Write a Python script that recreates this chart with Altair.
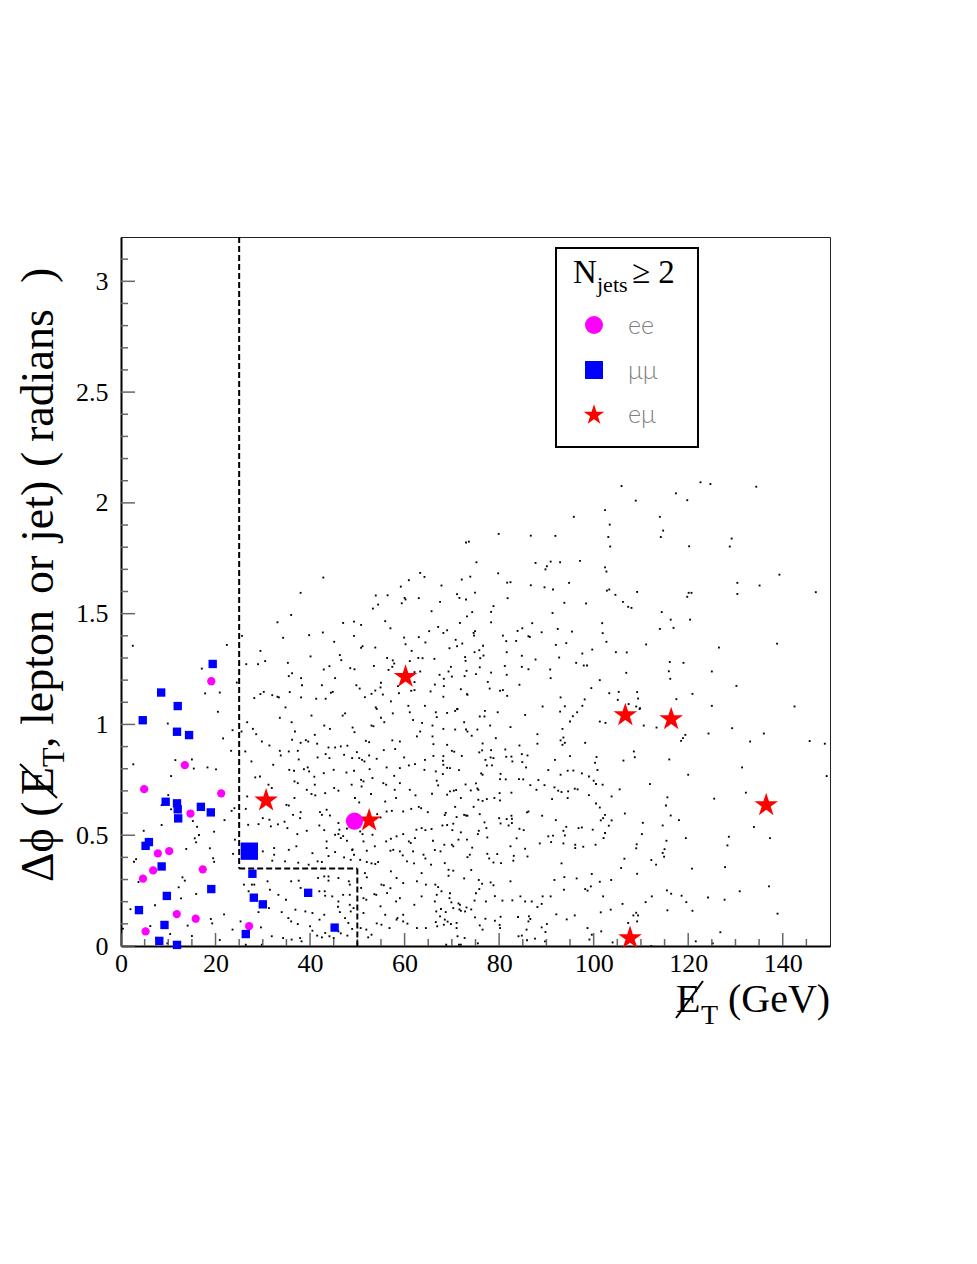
import altair as alt
import pandas as pd

SERIF = "Liberation Serif"

# ---------------- data ----------------
# axis tick values
x_major = [0, 20, 40, 60, 80, 100, 120, 140]
x_minor = [5, 10, 15, 25, 30, 35, 45, 50, 55, 65, 70, 75, 85, 90, 95, 105, 110, 115, 125, 130, 135, 145]
y_major = [0, 0.5, 1, 1.5, 2, 2.5, 3]
y_minor = [0.1, 0.2, 0.3, 0.4, 0.6, 0.7, 0.8, 0.9, 1.1, 1.2, 1.3, 1.4, 1.6, 1.7, 1.8, 1.9,
           2.1, 2.2, 2.3, 2.4, 2.6, 2.7, 2.8, 2.9, 3.1]

# selection cut (dashed lines): segments (x, y, x2, y2)
cut_x = [25, 25, 50]
cut_y = [3.2, 0.35, 0.35]
cut_x2 = [25, 50, 50]
cut_y2 = [0.35, 0.35, 0.0]

# ee events (magenta circles)
ee_met = [19.1, 13.5, 4.9, 21.2, 14.7, 7.8, 10.2, 6.8, 17.3, 4.65, 11.8, 15.8, 5.2, 27.1]
ee_dphi = [1.195, 0.816, 0.708, 0.689, 0.598, 0.418, 0.428, 0.341, 0.346, 0.304, 0.144, 0.123, 0.066, 0.090]
ee_big_met = [49.4]
ee_big_dphi = [0.564]

# mumu events (blue squares)
mm_met = [19.4, 8.5, 12.0, 4.6, 11.85, 14.4, 9.45, 11.85, 12.0, 12.1, 16.9, 19.0, 5.9, 5.2, 8.6,
          19.1, 9.7, 3.8, 9.2, 8.1, 11.85, 27.8, 28.1, 30.0, 26.4, 39.6, 45.2]
mm_dphi = [1.273, 1.144, 1.083, 1.019, 0.967, 0.952, 0.651, 0.644, 0.617, 0.576, 0.628, 0.603, 0.469,
           0.452, 0.359, 0.257, 0.226, 0.162, 0.095, 0.023, 0.005, 0.326, 0.218, 0.188, 0.054, 0.240, 0.083]
mm_big_met = [27.15]
mm_big_dphi = [0.428]

# emu events (red stars)
em_met = [30.7, 52.5, 60.2, 106.7, 116.4, 136.5, 107.7]
em_dphi = [0.657, 0.567, 1.215, 1.042, 1.024, 0.636, 0.036]

# background expectation (small dots), (MET, dphi) pairs by region of the plot
bg_left = [(2.5,1.355),(22.4,1.359),(17.1,1.252),(17.8,1.140),(20.9,1.144),(20.5,1.057),(9.9,1.004),
 (21.6,0.937),(11.5,0.839),(15.0,0.842),(15.4,0.801),(18.3,0.806),(2.6,0.820),(10.6,0.767),(20.1,0.797),
 (10.0,0.681),(8.6,0.636),(10.6,0.617),(8.6,0.546),(15.2,0.564),(16.1,0.538),(4.8,0.520),(16.5,0.501),
 (19.7,0.516),(21.9,0.568),(15.6,0.486),(15.9,0.468),(13.8,0.438),(18.8,0.441),(3.2,0.392),(2.75,0.380),
 (19.5,0.396),(19.7,0.380),(13.0,0.310),(13.5,0.295),(3.7,0.289),(12.2,0.265),(15.9,0.235),(12.7,0.215),
 (7.2,0.184),(2.0,0.166),(21.8,0.143),(6.2,0.090),(14.1,0.092),(19.0,0.122),(19.3,0.102),(10.4,0.054),
 (7.5,0.037),(15.0,0.045),(0.4,0.078),(9.8,0.012),(20.9,0.027)]

bg_upper_a = [(42.8,1.663),(63.3,1.684),(64.2,1.666),(60.9,1.651),(59.2,1.622),(38.0,1.594),(53.9,1.582),
 (56.4,1.583),(60.0,1.571),(60.2,1.564),(63.0,1.570),(59.4,1.547),(54.4,1.541),(53.3,1.523),(36.0,1.494),
 (33.1,1.461),(47.0,1.458),(49.3,1.464),(50.8,1.449),(55.9,1.466),(57.0,1.434),(42.7,1.415),(25.6,1.400),
 (39.8,1.403),(49.3,1.400),(34.3,1.391),(59.9,1.392),(63.0,1.394),(65.2,1.421),(45.1,1.373),(60.2,1.362),
 (64.4,1.370),(51.1,1.353),(50.8,1.346),(53.8,1.347),(29.5,1.332),(61.5,1.332),(46.3,1.313),(40.1,1.307),
 (46.6,1.290),(56.3,1.300),(57.5,1.289),(62.9,1.300),(63.8,1.299),(26.5,1.272),(29.0,1.272),(30.5,1.286),
 (35.3,1.278),(57.8,1.275),(61.1,1.286),(44.1,1.263),(42.9,1.248),(48.5,1.254),(49.4,1.249),(53.5,1.264),
 (56.6,1.246),(57.4,1.260),(36.2,1.231),(35.5,1.218),(62.1,1.236),(63.3,1.239),(38.1,1.209),(45.3,1.209),
 (24.5,1.189),(42.5,1.177),(38.3,1.177),(55.0,1.188),(49.8,1.177),(50.5,1.162),(54.9,1.167),(58.6,1.173),
 (62.1,1.191),(62.1,1.155),(35.7,1.146),(30.2,1.147),(29.5,1.137),(32.0,1.132),(33.1,1.125),(33.4,1.122),
 (38.1,1.122),(41.3,1.116),(43.3,1.116),(28.2,1.119),(44.4,1.143),(44.8,1.147),(53.8,1.153),(53.0,1.138),
 (55.4,1.135),(51.6,1.123),(58.8,1.141),(61.4,1.152),(57.1,1.104),(34.8,1.077),(53.9,1.077),(60.8,1.084),
 (64.3,1.084)]

bg_upper_b = [(105.9,2.076),(102.4,1.967),(95.8,1.937),(103.4,1.902),(79.9,1.860),(86.7,1.852),(91.9,1.851),
 (103.1,1.846),(73.0,1.821),(73.6,1.825),(103.5,1.803),(75.2,1.732),(87.7,1.729),(90.9,1.735),(92.9,1.732),
 (97.1,1.738),(90.1,1.714),(89.8,1.700),(102.4,1.709),(102.7,1.690),(79.8,1.682),(73.9,1.667),(72.1,1.654),
 (67.8,1.627),(81.7,1.640),(82.4,1.642),(86.7,1.628),(89.6,1.619),(91.4,1.609),(94.8,1.639),(102.8,1.604),
 (103.3,1.609),(104.6,1.585),(71.1,1.588),(71.6,1.571),(73.0,1.564),(74.9,1.595),(81.8,1.570),(67.5,1.553),
 (93.8,1.549),(98.4,1.546),(106.2,1.553),(107.3,1.531),(65.7,1.511),(78.8,1.534),(78.3,1.508),(74.3,1.507),
 (73.2,1.488),(91.3,1.503),(78.3,1.461),(71.7,1.458),(67.1,1.440),(69.0,1.425),(68.2,1.413),(74.9,1.421),
 (74.6,1.413),(74.7,1.401),(84.9,1.434),(87.0,1.457),(83.9,1.422),(80.8,1.401),(86.2,1.398),(86.5,1.395),
 (89.0,1.416),(92.4,1.431),(95.4,1.419),(101.8,1.457),(101.9,1.412),(70.8,1.382),(72.2,1.365),(71.1,1.353),
 (69.5,1.344),(76.6,1.355),(81.5,1.376),(83.6,1.377),(92.0,1.359),(94.2,1.367),(102.7,1.373),(75.8,1.335),
 (74.8,1.326),(76.7,1.311),(81.6,1.326),(72.8,1.304),(72.9,1.287),(76.0,1.299),(66.3,1.296),(84.8,1.310),
 (87.7,1.293),(92.7,1.302),(97.6,1.320),(99.7,1.338),(104.7,1.326),(107.0,1.325),(69.8,1.260),(75.9,1.258),
 (81.2,1.264),(84.8,1.260),(86.2,1.249),(96.3,1.278),(97.9,1.266),(98.6,1.266),(69.3,1.239),(73.1,1.242),
 (78.3,1.234),(90.8,1.248),(106.9,1.233),(67.4,1.224),(70.0,1.216),(72.7,1.218),(75.1,1.227),(81.6,1.224),
 (68.3,1.206),(90.9,1.209),(101.3,1.200),(77.6,1.192),(66.4,1.180),(84.3,1.179),(68.3,1.173),(71.9,1.159),
 (78.0,1.162),(80.2,1.152),(80.8,1.155),(99.5,1.164),(65.5,1.149),(73.2,1.137),(73.3,1.134),(81.7,1.129),
 (68.2,1.125),(93.0,1.122),(98.1,1.113),(103.3,1.141),(105.3,1.147),(105.1,1.111),(107.4,1.092),(71.1,1.070),
 (89.2,1.081),(93.9,1.082),(97.6,1.084)]

bg_upper_c = [(122.6,2.093),(124.7,2.085),(134.4,2.073),(117.4,2.043),(119.8,2.012),(108.9,2.010),
 (114.0,1.937),(114.7,1.875),(114.2,1.846),(129.2,1.839),(120.2,1.804),(128.8,1.803),(139.3,1.676),
 (130.4,1.639),(135.1,1.627),(147.0,1.597),(109.2,1.598),(120.1,1.594),(120.7,1.594),(119.8,1.576),
 (130.4,1.589),(108.0,1.526),(114.4,1.507),(116.3,1.473),(120.4,1.473),(114.0,1.431),(116.9,1.436),
 (111.1,1.361),(138.8,1.365),(126.5,1.347),(116.1,1.282),(119.0,1.278),(115.9,1.240),(125.0,1.239),
 (116.2,1.206),(130.2,1.174),(109.2,1.146),(120.9,1.138),(109.4,1.117),(117.5,1.114),(109.0,1.081),
 (109.8,1.073),(125.0,1.084),(142.5,1.081)]

bg_lower_a = [(26.7,1.01),(27.9,0.98),(33.6,1.03),(36.1,1.01),(40.3,1.04),(43.0,0.995),(46.9,1.04),
 (47.4,1.05),(54.1,1.07),(55.0,1.03),(55.7,1.01),(57.5,1.05),(61.1,1.055),(61.8,1.02),(63.7,1.007),
 (53.0,0.995),(53.4,0.992),(49.0,0.986),(49.4,0.965),(44.2,0.98),(41.0,0.953),(36.8,0.968),(28.6,0.956),
 (25.5,0.968),(23.6,0.974),(29.8,0.923),(31.4,0.905),(36.2,0.931),(38.0,0.917),(39.1,0.929),(39.6,0.923),
 (41.5,0.913),(43.9,0.896),(45.3,0.896),(46.5,0.901),(47.9,0.904),(51.8,0.926),(52.5,0.92),(57.4,0.928),
 (59.0,0.923),(62.6,0.946),(63.3,0.968),(23.3,0.881),(26.3,0.878),(33.6,0.881),(33.8,0.86),(35.5,0.878),
 (37.4,0.881),(37.6,0.842),(41.6,0.851),(43.3,0.866),(44.1,0.848),(47.2,0.863),(48.9,0.848),(49.9,0.875),
 (50.4,0.848),(51.0,0.84),(51.5,0.833),(52.5,0.86),(54.1,0.845),(55.6,0.884),(58.0,0.889),(59.9,0.851),
 (64.3,0.84),(27.6,0.833),(32.2,0.818),(35.6,0.795),(36.6,0.791),(38.7,0.798),(39.5,0.806),(39.8,0.788),
 (40.9,0.764),(42.9,0.78),(45.0,0.795),(47.7,0.783),(49.3,0.791),(52.6,0.798),(53.2,0.758),(56.2,0.806),
 (57.8,0.768),(59.0,0.803),(60.9,0.815),(62.2,0.821),(64.2,0.795),(28.4,0.761),(29.4,0.765),(31.2,0.728),
 (31.9,0.713),(36.7,0.743),(37.4,0.735),(39.3,0.705),(41.0,0.728),(45.1,0.713),(48.8,0.728),(50.8,0.75),
 (51.3,0.743),(50.9,0.72),(55.5,0.735),(56.1,0.728),(57.9,0.705),(59.0,0.735),(61.1,0.705),(26.7,0.675),
 (35.0,0.637),(35.5,0.634),(36.7,0.668),(40.3,0.686),(41.1,0.68),(43.2,0.69),(46.0,0.701),(49.5,0.668),
 (50.4,0.648),(52.9,0.686),(55.9,0.652),(58.2,0.668),(62.3,0.68),(23.4,0.61),(24.0,0.622),(26.4,0.619),
 (29.1,0.55),(30.0,0.577),(31.4,0.57),(36.4,0.592),(37.9,0.577),(38.0,0.604),(42.1,0.604),(42.5,0.592),
 (43.5,0.615),(44.2,0.589),(46.0,0.555),(46.2,0.525),(47.8,0.53),(50.6,0.517),(51.1,0.505),(54.2,0.595),
 (54.9,0.58),(56.2,0.607),(57.3,0.61),(59.7,0.607),(61.4,0.619),(63.0,0.628),(63.5,0.622),(64.9,0.604),
 (26.9,0.547),(31.7,0.54),(33.2,0.549),(34.6,0.561),(35.2,0.532),(37.3,0.505),(39.3,0.52),(41.96,0.544),
 (43.0,0.523),(43.5,0.472),(45.3,0.502),(46.0,0.505),(46.5,0.487),(47.0,0.496),(47.8,0.475),(49.0,0.436),
 (51.3,0.472),(53.2,0.502),(56.1,0.472),(57.1,0.484),(58.3,0.495),(59.7,0.505),(60.9,0.472),(61.3,0.465),
 (62.2,0.487),(62.5,0.525),(63.6,0.532),(64.4,0.523),(24.1,0.48),(23.7,0.416),(26.7,0.40),(30.0,0.427),
 (32.4,0.442),(32.4,0.412),(35.5,0.434),(37.1,0.45),(40.5,0.419),(43.5,0.442),(43.9,0.406),(45.3,0.424),
 (47.2,0.40),(48.9,0.433),(49.3,0.412),(48.6,0.389),(52.0,0.43),(53.7,0.45),(57.0,0.43),(57.6,0.434),
 (59.0,0.427),(59.6,0.409),(61.8,0.427),(64.0,0.412),(64.4,0.395),(32.0,0.385),(34.7,0.382),(37.5,0.376),
 (39.7,0.367),(41.6,0.382),(42.5,0.379),(50.6,0.389),(52.0,0.379),(53.0,0.373),(53.8,0.37),(54.4,0.379),
 (60.5,0.382),(62.0,0.373),(51.6,0.329),(52.0,0.31),(57.1,0.337),(58.3,0.307),(55.6,0.274),(55.1,0.277),
 (56.3,0.239),(57.0,0.261),(59.7,0.284),(62.6,0.292),(64.5,0.277),(63.6,0.329),(27.7,0.277),(28.2,0.277),
 (26.0,0.277),(27.0,0.247),(31.0,0.292),(31.5,0.254),(33.3,0.231),(34.9,0.209),(36.0,0.292),(37.6,0.295),
 (38.0,0.262),(41.7,0.307),(43.0,0.314),(43.9,0.314),(43.9,0.295),(46.0,0.307),(48.2,0.292),(48.4,0.277),
 (41.96,0.247),(43.1,0.247),(43.2,0.227),(44.7,0.224),(46.0,0.201),(45.9,0.177),(47.0,0.231),(48.4,0.231),
 (48.4,0.186),(50.8,0.262),(51.3,0.216),(51.9,0.209),(53.6,0.234),(54.0,0.231),(54.9,0.179),(58.2,0.201),
 (59.0,0.216),(62.06,0.186),(63.6,0.224),(59.7,0.141),(58.5,0.126),(55.9,0.141),(54.1,0.102),(51.3,0.149),
 (49.2,0.171),(48.6,0.156),(47.4,0.126),(48.1,0.104),(46.3,0.153),(43.0,0.141),(42.0,0.119),(40.5,0.149),
 (39.0,0.156),(36.9,0.164),(34.0,0.153),(31.3,0.171),(29.1,0.153),(25.3,0.111),(23.6,0.074),(29.6,0.084),
 (35.4,0.126),(36.0,0.111),(37.4,0.099),(40.0,0.089),(40.5,0.069),(41.5,0.047),(42.5,0.039),(44.1,0.044),
 (45.0,0.036),(43.2,0.059),(46.0,0.066),(46.5,0.057),(48.9,0.077),(47.9,0.047),(50.7,0.081),(51.9,0.074),
 (52.3,0.039),(53.0,0.051),(55.1,0.096),(56.8,0.081),(58.3,0.119),(59.7,0.111),(60.6,0.101),(62.6,0.081),
 (64.5,0.081),(31.9,0.044),(34.3,0.036),(36.1,0.029),(37.9,0.036),(38.2,0.021),(26.4,0.006),(29.8,0.006)]

bg_lower_b = [(66.6,1.055),(69.0,1.052),(70.7,1.061),(71.2,1.069),(75.9,1.036),(76.9,1.036),(77.0,1.061),
 (79.7,1.055),(85.5,1.043),(92.9,1.058),(95.6,1.037),(96.5,1.055),(95.0,1.013),(101.3,1.013),(102.5,1.007),
 (66.8,1.033),(72.6,1.01),(78.1,0.995),(82.4,0.988),(65.9,0.995),(68.2,0.98),(70.7,0.977),(73.0,0.977),
 (73.3,0.968),(75.4,0.977),(74.2,0.949),(65.9,0.946),(66.1,0.911),(69.0,0.908),(76.5,0.914),(79.3,0.938),
 (88.1,0.956),(93.4,0.98),(93.6,0.941),(93.0,0.928),(93.4,0.908),(93.9,0.917),(98.2,0.917),(84.3,0.905),
 (88.1,0.913),(81.3,0.887),(70.0,0.881),(70.5,0.877),(75.8,0.874),(76.4,0.883),(78.3,0.884),(84.8,0.866),
 (86.0,0.86),(82.6,0.855),(81.5,0.854),(72.1,0.858),(66.1,0.858),(68.2,0.857),(68.1,0.836),(77.1,0.84),
 (78.2,0.851),(78.8,0.848),(82.8,0.833),(84.9,0.83),(91.8,0.84),(95.0,0.857),(100.6,0.853),(100.3,0.827),
 (106.3,0.837),(68.2,0.818),(69.0,0.804),(69.6,0.803),(77.4,0.815),(78.5,0.815),(71.5,0.794),(66.6,0.788),
 (76.2,0.779),(76.5,0.773),(85.7,0.806),(90.4,0.794),(94.5,0.791),(95.7,0.792),(93.0,0.773),(97.5,0.779),
 (99.0,0.765),(100.8,0.794),(80.3,0.777),(80.2,0.753),(81.4,0.752),(84.2,0.753),(85.1,0.752),(86.6,0.726),
 (88.3,0.749),(89.6,0.726),(66.8,0.746),(68.1,0.776),(67.1,0.725),(72.9,0.729),(74.0,0.702),(75.1,0.734),
 (75.4,0.711),(75.6,0.705),(65.8,0.687),(69.0,0.683),(69.6,0.698),(70.4,0.701),(70.9,0.704),(71.9,0.668),
 (75.6,0.66),(76.5,0.655),(77.4,0.663),(79.0,0.668),(80.1,0.69),(80.2,0.657),(82.6,0.692),(87.9,0.705),
 (91.7,0.716),(92.5,0.701),(93.2,0.695),(94.6,0.698),(96.0,0.71),(96.6,0.707),(99.0,0.681),(100.0,0.746),
 (100.5,0.731),(101.9,0.728),(103.8,0.675),(105.5,0.707),(91.2,0.663),(94.5,0.668),(70.7,0.628),(74.6,0.628),
 (100.5,0.643),(101.3,0.625),(106.6,0.598),(68.7,0.601),(68.5,0.591),(71.0,0.582),(72.6,0.592),(73.0,0.589),
 (73.3,0.588),(75.9,0.595),(76.9,0.558),(80.0,0.577),(80.3,0.553),(81.6,0.573),(82.6,0.588),(82.7,0.574),
 (82.7,0.555),(85.9,0.603),(86.2,0.607),(89.1,0.588),(92.0,0.568),(94.2,0.538),(96.8,0.532),(97.5,0.535),
 (99.8,0.525),(101.5,0.567),(102.0,0.577),(102.4,0.592),(103.2,0.543),(103.8,0.567),(65.7,0.528),(66.0,0.475),
 (68.0,0.544),(69.0,0.546),(70.3,0.552),(70.1,0.523),(71.9,0.513),(73.2,0.48),(71.4,0.48),(75.7,0.52),
 (75.5,0.505),(77.5,0.49),(77.3,0.532),(82.0,0.544),(83.7,0.486),(84.3,0.529),(85.2,0.523),(88.6,0.463),
 (90.4,0.495),(91.0,0.469),(91.4,0.498),(93.6,0.463),(93.9,0.499),(93.6,0.52),(96.1,0.457),(96.1,0.442),
 (97.8,0.448),(100.4,0.457),(102.4,0.51),(102.1,0.487),(68.4,0.457),(67.6,0.427),(70.0,0.457),(70.3,0.45),
 (73.3,0.401),(73.8,0.412),(74.3,0.444),(77.5,0.416),(77.9,0.395),(78.8,0.377),(79.6,0.415),(80.4,0.374),
 (82.4,0.45),(83.1,0.407),(83.0,0.385),(85.5,0.439),(86.0,0.404),(66.4,0.433),(68.5,0.374),(65.6,0.367),
 (69.3,0.344),(69.3,0.317),(70.3,0.34),(74.1,0.343),(72.6,0.305),(75.7,0.298),(76.4,0.281),(78.2,0.287),
 (78.8,0.274),(82.4,0.292),(91.7,0.298),(93.2,0.373),(93.8,0.311),(96.4,0.305),(98.2,0.257),(98.7,0.25),
 (99.4,0.269),(99.6,0.325),(101.3,0.29),(103.7,0.298),(106.5,0.394),(105.8,0.352),(66.5,0.277),(66.8,0.231),
 (66.4,0.201),(67.1,0.266),(67.8,0.247),(69.6,0.238),(69.5,0.216),(69.9,0.197),(71.4,0.192),(71.7,0.186),
 (71.6,0.165),(73.1,0.174),(74.1,0.165),(74.8,0.205),(75.1,0.238),(75.8,0.257),(77.2,0.201),(79.1,0.225),
 (80.7,0.205),(82.8,0.206),(84.5,0.224),(85.5,0.201),(86.9,0.201),(88.1,0.176),(89.0,0.19),(89.2,0.224),
 (90.9,0.224),(93.7,0.254),(102.0,0.224),(103.6,0.164),(106.1,0.19),(101.5,0.152),(66.7,0.156),(67.7,0.167),
 (68.7,0.153),(70.3,0.171),(71.9,0.159),(72.8,0.156),(67.5,0.134),(68.5,0.119),(69.1,0.11),(69.8,0.099),
 (71.0,0.104),(74.9,0.129),(77.1,0.123),(79.1,0.114),(80.3,0.132),(84.0,0.131),(86.3,0.134),(86.6,0.122),
 (86.2,0.111),(92.1,0.143),(94.3,0.12),(96.0,0.138),(107.3,0.104),(66.6,0.108),(66.9,0.089),(68.3,0.096),
 (71.0,0.081),(75.9,0.093),(76.5,0.074),(80.1,0.095),(80.2,0.081),(85.8,0.074),(89.0,0.084),(90.1,0.099),
 (89.8,0.063),(98.7,0.081),(101.6,0.066),(71.2,0.044),(72.7,0.036),(75.5,0.012),(84.1,0.044),(84.8,0.047),
 (85.9,0.026),(87.6,0.033),(89.7,0.021),(99.1,0.029),(99.6,0.051),(104.0,0.016),(68.8,0.006),(71.5,0.006),
 (71.9,0.006)]

bg_lower_c = [(109.7,1.07),(110.6,0.995),(113.3,0.986),(119.4,0.953),(118.9,0.938),(118.5,0.926),
 (124.3,0.959),(129.3,0.983),(136.0,0.959),(133.1,0.923),(145.7,0.925),(148.9,0.913),(108.5,0.878),
 (108.7,0.852),(116.0,0.842),(131.4,0.806),(120.0,0.773),(149.3,0.767),(111.9,0.731),(115.6,0.671),
 (125.5,0.665),(132.2,0.692),(115.3,0.634),(116.3,0.589),(118.05,0.568),(110.4,0.556),(114.6,0.544),
 (133.9,0.537),(110.2,0.505),(119.5,0.487),(128.6,0.493),(137.3,0.487),(115.4,0.475),(109.1,0.459),
 (109.0,0.441),(115.0,0.437),(128.3,0.454),(114.6,0.42),(114.9,0.403),(112.2,0.388),(113.2,0.367),
 (120.8,0.349),(127.8,0.356),(109.2,0.326),(115.5,0.251),(116.4,0.236),(118.6,0.227),(112.3,0.224),
 (111.0,0.198),(119.6,0.198),(124.2,0.219),(127.7,0.209),(130.9,0.247),(137.1,0.269),(115.6,0.161),
 (120.9,0.159),(138.9,0.146),(108.4,0.138),(109.0,0.15),(109.4,0.138),(109.2,0.111),(126.8,0.062),
 (121.6,0.021),(125.2,0.012),(112.2,0.0)]

# ---------------- chart ----------------
W, H = 709, 709

bg_pairs = bg_left + bg_upper_a + bg_upper_b + bg_upper_c + bg_lower_a + bg_lower_b + bg_lower_c
bg = pd.DataFrame(bg_pairs, columns=["met", "dphi"])

xs = alt.Scale(domain=[0, 150], nice=False, zero=False)
ys = alt.Scale(domain=[0, 3.2], nice=False, zero=False)

x_enc = alt.X("met:Q", scale=xs, title="",
              axis=alt.Axis(values=x_major, labelFont=SERIF, labelFontSize=26, labelColor="black",
                            ticks=False, tickSize=0, domainColor="black", domainWidth=2, grid=False,
                            labelPadding=4, labelFlush=False, labelOverlap=False, labelExpr="'' + datum.value"))
y_enc = alt.Y("dphi:Q", scale=ys, title="",
              axis=alt.Axis(values=y_major, labelFont=SERIF, labelFontSize=26, labelColor="black",
                            ticks=False, tickSize=0, domainColor="black", domainWidth=2, grid=False,
                            labelPadding=13, labelFlush=False, labelOverlap=False, labelExpr="'' + datum.value"))

dots = alt.Chart(bg).mark_square(size=3.5, color="black", opacity=1).encode(x=x_enc, y=y_enc)

tick_col = "#666666"
xmaj = alt.Chart(pd.DataFrame({"met": x_major})).mark_rule(color=tick_col, strokeWidth=1.5).encode(
    x=x_enc, y=alt.value(H), y2=alt.value(H - 13))
xmin = alt.Chart(pd.DataFrame({"met": x_minor})).mark_rule(color=tick_col, strokeWidth=1.5).encode(
    x=x_enc, y=alt.value(H), y2=alt.value(H - 7))
ymaj = alt.Chart(pd.DataFrame({"dphi": y_major})).mark_rule(color=tick_col, strokeWidth=1.5).encode(
    y=y_enc, x=alt.value(0), x2=alt.value(14))
ymin = alt.Chart(pd.DataFrame({"dphi": y_minor})).mark_rule(color=tick_col, strokeWidth=1.5).encode(
    y=y_enc, x=alt.value(0), x2=alt.value(7))

cuts = alt.Chart(pd.DataFrame({"met": cut_x, "dphi": cut_y, "met2": cut_x2, "dphi2": cut_y2})).mark_rule(
    color="black", strokeWidth=2, strokeDash=[6, 3]).encode(
    x=x_enc, y=y_enc, x2="met2:Q", y2="dphi2:Q")

STAR = "M0,-1L0.225,-0.309L0.951,-0.309L0.363,0.118L0.588,0.809L0,0.382L-0.588,0.809L-0.363,0.118L-0.951,-0.309L-0.225,-0.309Z"

ee = alt.Chart(pd.DataFrame({"met": ee_met, "dphi": ee_dphi})).mark_point(
    shape="circle", filled=True, size=68, color="#ff00ff", opacity=1).encode(x=x_enc, y=y_enc)
ee_big = alt.Chart(pd.DataFrame({"met": ee_big_met, "dphi": ee_big_dphi})).mark_point(
    shape="circle", filled=True, size=300, color="#ff00ff", opacity=1).encode(x=x_enc, y=y_enc)
mm = alt.Chart(pd.DataFrame({"met": mm_met, "dphi": mm_dphi})).mark_point(
    shape="square", filled=True, size=70, color="#0000ff", opacity=1).encode(x=x_enc, y=y_enc)
mm_big = alt.Chart(pd.DataFrame({"met": mm_big_met, "dphi": mm_big_dphi})).mark_point(
    shape="square", filled=True, size=300, color="#0000ff", opacity=1).encode(x=x_enc, y=y_enc)
em = alt.Chart(pd.DataFrame({"met": em_met, "dphi": em_dphi})).mark_point(
    shape=STAR, filled=True, size=620, color="#ff0000", opacity=1).encode(x=x_enc, y=y_enc)

one = pd.DataFrame({"k": [0]})


def txt(s, x, y, size, angle=0, align="left", baseline="alphabetic", font=SERIF, color="black", weight="normal"):
    return alt.Chart(one).mark_text(text=s, fontSize=size, angle=angle, align=align, baseline=baseline,
                                    font=font, color=color, fontWeight=weight).encode(
        x=alt.value(x), y=alt.value(y))


def seg(x1, y1, x2, y2, width=2):
    return alt.Chart(one).mark_rule(color="black", strokeWidth=width).encode(
        x=alt.value(x1), y=alt.value(y1), x2=alt.value(x2), y2=alt.value(y2))


# y axis title (rotated, reading upwards)
YX = -68
YF = 46
ytitle = [
    txt("Δϕ (", YX, 645, YF, angle=270),
    txt("E", YX, 558, YF, angle=270),
    seg(-64, 561, -101, 527),
    txt("T", YX + 11, 530, 32, angle=270),
    txt(", lepton", YX, 511, YF, angle=270),
    txt("or", YX, 357, YF, angle=270),
    txt("jet)", YX, 305, YF, angle=270),
    txt("(", YX, 230, YF, angle=270),
    txt("radians", YX, 205, YF, angle=270),
    txt(")", YX, 46, YF, angle=270),
]

# x axis title
xtitle = [
    txt("E", 555, 775, 40),
    seg(555, 781, 582, 744),
    txt("T", 580, 787, 28),
    txt("(GeV)", 607, 775, 40),
]

# legend
legend_box = alt.Chart(one).mark_rect(fill="white", stroke="black", strokeWidth=2).encode(
    x=alt.value(435), x2=alt.value(577), y=alt.value(11), y2=alt.value(210))
legend = [
    legend_box,
    txt("N", 452, 46, 33),
    txt("jets", 476, 55, 22),
    txt("≥ 2", 511, 46, 33),
    alt.Chart(one).mark_point(shape="circle", filled=True, size=324, color="#ff00ff", opacity=1).encode(
        x=alt.value(473), y=alt.value(88)),
    alt.Chart(one).mark_point(shape="square", filled=True, size=324, color="#0000ff", opacity=1).encode(
        x=alt.value(473), y=alt.value(133)),
    alt.Chart(one).mark_point(shape=STAR, filled=True, size=470, color="#ff0000", opacity=1).encode(
        x=alt.value(473), y=alt.value(178)),
    txt("ee", 507, 89, 25, baseline="middle", font="Lato", color="#808080", weight=300),
    txt("μμ", 507, 134, 25, baseline="middle", font="Lato", color="#808080", weight=300),
    txt("eμ", 507, 178, 25, baseline="middle", font="Lato", color="#808080", weight=300),
]

chart = alt.layer(
    dots, xmaj, xmin, ymaj, ymin, cuts, ee, mm, em, ee_big, mm_big, *legend, *ytitle, *xtitle
).properties(
    width=W, height=H,
    padding={"left": 113, "top": 229, "right": 30, "bottom": 290},
    autosize=alt.AutoSizeParams(type="none"),
).configure_view(stroke="#222222", strokeWidth=1)

chart.save("out.html", embed_options={"renderer": "svg", "actions": False})
